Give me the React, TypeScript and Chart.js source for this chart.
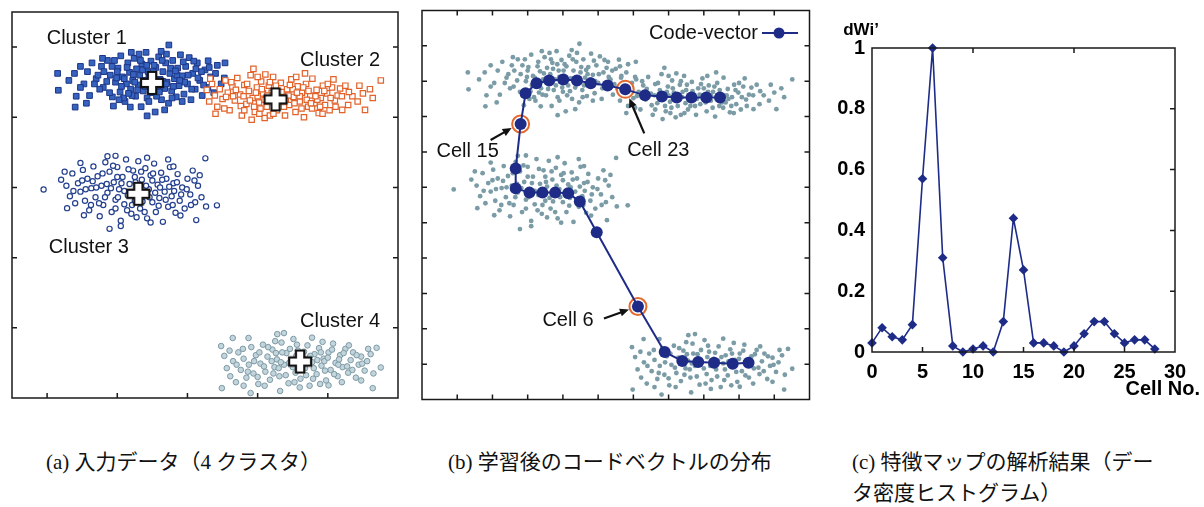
import React, { useEffect, useRef } from "react";
import { Chart, registerables } from "chart.js";

Chart.register(...registerables);
Chart.defaults.font.family = "'Liberation Sans', Arial, sans-serif";

// ---- Input data (shared by panels a and b), [x, y] in plot units 0..11 ----
const cluster1: number[][] = [
  [1.30,9.25],[1.32,8.77],[1.78,9.25],[1.80,8.29],[2.28,9.55],[1.83,8.60],[2.05,8.95],[2.21,8.62],[2.40,9.10],[2.55,9.45],
  [2.60,8.85],[2.72,9.62],[2.80,9.20],[2.86,8.58],[2.95,9.00],[3.02,9.40],[3.08,8.72],[3.10,9.75],[3.15,9.15],[3.22,8.45],
  [3.26,8.95],[3.30,9.55],[3.35,9.28],[3.38,8.80],[3.44,9.05],[3.48,9.68],[3.52,8.60],[3.55,9.38],[3.60,8.92],[3.64,9.20],
  [3.68,8.30],[3.70,9.52],[3.74,8.75],[3.78,9.05],[3.82,9.85],[3.85,8.55],[3.88,9.30],[3.92,8.98],[3.96,9.60],[4.00,8.70],
  [4.04,9.15],[4.08,8.15],[4.10,9.42],[4.15,8.88],[4.18,9.72],[4.22,9.08],[4.26,8.50],[4.30,9.30],[4.35,8.82],[4.38,9.55],
  [4.42,9.00],[4.46,8.40],[4.50,9.25],[4.55,8.75],[4.58,9.62],[4.63,9.10],[4.68,8.58],[4.72,9.40],[4.76,8.90],[4.80,9.78],
  [4.85,9.18],[4.90,8.66],[4.95,9.45],[5.00,8.95],[5.05,9.70],[5.10,8.50],[5.15,9.25],[5.22,8.80],[5.28,9.55],[5.35,9.05],
  [5.42,8.62],[5.50,9.35],[5.58,8.85],[5.66,9.15],[5.75,8.70],[5.85,9.48],[5.96,8.95],[6.05,9.12],[4.47,10.06],[5.59,9.61],
  [6.07,9.55],[3.85,8.04],[4.35,8.21],[2.89,8.32],[3.37,8.29],[3.20,9.10],[3.50,9.00],[3.90,9.12],[4.30,9.02],[4.70,9.20],
  [3.00,9.30],[2.70,9.02],[4.12,8.60],[3.42,8.62],[4.92,9.00],[5.30,9.12],[2.50,8.80],[3.62,9.80],[4.40,9.80],[2.92,9.62],
  [2.45,9.20],[2.15,9.30],[1.95,8.85],[3.18,8.55],[3.72,9.35],[4.05,9.48],[4.85,8.45],[5.40,9.30],
  [2.35,8.95],[2.62,9.30],[2.78,8.70],[2.98,9.12],[3.12,8.88],[3.28,9.42],[3.32,8.68],[3.46,9.22],[3.58,8.78],[3.66,9.62],
  [3.80,8.88],[3.84,9.48],[3.98,8.82],[4.02,9.30],[4.14,9.05],[4.20,8.72],[4.28,9.62],[4.40,8.95],[4.52,9.40],[4.60,8.88],
  [4.66,9.32],[4.78,9.05],[4.88,9.58],[5.02,9.20],[5.12,8.80],[5.24,9.38],[5.46,8.92],[5.62,9.42],[2.58,9.68],[3.05,8.50],
  [3.90,8.45],[4.56,8.55],[5.18,9.60],[2.85,9.45],[3.40,9.85],[4.25,9.88],[1.62,9.05],[1.95,9.45],[2.12,8.40],[5.80,9.25],
];

const cluster2: number[][] = [
  [5.55,8.78],[5.62,8.45],[5.70,8.95],[5.78,8.62],[5.85,8.30],[5.92,8.80],[6.00,8.52],[6.08,9.05],[6.15,8.70],[6.20,8.20],
  [6.28,8.88],[6.35,8.48],[6.42,9.12],[6.50,8.65],[6.55,8.05],[6.62,8.92],[6.68,8.38],[6.75,8.75],[6.80,9.20],[6.86,8.55],
  [6.92,8.15],[6.98,8.85],[7.04,8.42],[7.10,9.02],[7.15,8.68],[7.20,7.98],[7.26,8.30],[7.32,8.90],[7.38,8.55],[7.44,9.15],
  [7.50,8.75],[7.55,8.20],[7.60,8.45],[7.66,8.98],[7.72,8.62],[7.78,8.05],[7.84,8.80],[7.90,8.35],[7.96,9.08],[8.02,8.58],
  [8.08,8.15],[8.14,8.88],[8.20,8.45],[8.26,8.70],[8.32,8.00],[8.38,8.95],[8.44,8.30],[8.50,8.62],[8.56,9.10],[8.62,8.40],
  [8.68,8.78],[8.74,8.12],[8.80,8.55],[8.86,8.90],[8.92,8.35],[8.98,8.68],[9.05,8.20],[9.12,8.85],[9.20,8.48],[9.28,8.62],
  [10.51,9.05],[10.28,8.55],[10.06,8.21],[9.58,8.35],[9.41,8.21],[9.16,9.08],[6.88,9.38],[7.22,9.22],[10.00,8.68],[9.35,8.82],
  [6.83,7.93],[7.00,8.60],[7.40,8.70],[7.80,8.50],[8.20,8.60],[6.60,8.60],[7.62,8.30],[8.00,8.80],[7.20,8.50],[6.90,8.30],
  [8.40,8.50],[6.30,8.60],[8.70,8.50],[9.70,8.60],[9.50,8.90],[5.65,9.10],[6.05,8.25],[7.05,8.10],[8.55,8.25],[9.00,8.95],
  [7.35,8.05],
  [6.10,8.58],[6.38,8.78],[6.52,8.32],[6.70,8.95],[6.78,8.48],[6.95,8.70],[7.08,8.25],[7.12,8.80],[7.28,8.62],[7.35,9.00],
  [7.48,8.38],[7.52,8.90],[7.68,8.72],[7.75,8.30],[7.88,8.62],[7.92,8.92],[8.05,8.40],[8.12,8.70],[8.25,8.25],[8.30,8.85],
  [8.45,8.75],[8.52,8.40],[8.65,8.60],[8.78,8.30],[8.90,8.75],[9.08,8.55],[9.22,8.30],[9.40,8.60],[9.60,8.72],[9.85,8.45],
  [6.25,9.00],[6.62,8.20],[7.45,8.10],[8.10,9.15],[8.85,8.10],[5.80,8.10],[9.90,8.90],[10.20,8.80],[7.00,9.15],[8.35,9.25],
];

const cluster3: number[][] = [
  [1.55,6.05],[1.65,5.75],[1.72,6.40],[1.80,5.55],[1.88,6.12],[1.95,5.88],[2.02,6.50],[2.08,5.62],[2.15,6.25],[2.20,5.35],
  [2.26,5.98],[2.32,6.60],[2.38,5.72],[2.44,6.32],[2.50,5.18],[2.55,6.05],[2.60,5.50],[2.66,6.72],[2.72,5.85],[2.78,6.45],
  [2.84,5.30],[2.90,6.15],[2.95,5.65],[3.00,6.58],[3.05,5.95],[3.10,5.05],[3.15,6.30],[3.20,5.52],[3.25,6.80],[3.30,5.78],
  [3.35,6.10],[3.40,5.25],[3.45,6.48],[3.50,5.62],[3.55,6.02],[3.60,6.75],[3.65,5.40],[3.70,6.22],[3.75,5.80],[3.80,6.55],
  [3.85,5.12],[3.90,5.95],[3.95,6.35],[4.00,5.58],[4.05,6.68],[4.10,5.30],[4.15,6.08],[4.20,5.70],[4.25,6.42],[4.30,5.02],
  [4.35,5.88],[4.40,6.25],[4.45,5.45],[4.50,6.58],[4.55,5.75],[4.60,6.12],[4.66,5.28],[4.72,6.38],[4.78,5.62],[4.85,6.00],
  [4.92,5.40],[5.00,6.25],[5.08,5.80],[5.15,6.48],[5.22,5.58],[5.30,6.05],[5.40,5.72],[0.90,5.94],[1.40,6.22],[5.51,6.83],
  [5.84,5.49],[5.53,5.46],[2.78,4.82],[5.25,5.07],[2.72,6.89],[1.57,5.41],[2.05,5.21],[3.20,5.90],[3.50,6.30],[3.72,5.60],
  [2.70,6.10],[4.22,6.00],[2.40,6.00],[3.00,6.30],[4.00,6.20],[3.42,5.50],[4.62,5.90],[3.10,4.90],[3.95,5.00],[2.95,5.40],
  [4.60,6.60],[1.95,6.70],
  [2.10,5.95],[2.30,6.18],[2.48,5.55],[2.58,6.40],[2.65,5.72],[2.82,5.98],[2.88,6.62],[3.02,5.72],[3.12,6.12],[3.28,5.35],
  [3.32,6.52],[3.38,5.82],[3.52,6.15],[3.62,5.70],[3.68,6.45],[3.78,5.30],[3.82,6.05],[3.92,5.72],[4.02,6.40],[4.08,5.85],
  [4.18,5.48],[4.28,6.22],[4.38,5.65],[4.48,6.02],[4.58,5.50],[4.70,6.15],[4.82,5.80],[4.98,5.95],[5.10,5.50],[5.20,6.20],
  [1.75,5.90],[2.25,5.50],[2.95,6.90],[3.55,5.15],[4.45,6.80],[5.35,6.35],[1.50,6.45],[2.00,6.20],[3.85,6.85],[4.80,5.20],
];

const cluster4: number[][] = [
  [6.05,1.20],[6.12,0.85],[6.22,0.62],[6.30,1.05],[6.38,0.45],[6.45,1.30],[6.52,0.80],[6.60,1.12],[6.68,0.58],[6.75,0.95],
  [6.82,1.45],[6.88,0.70],[6.95,1.22],[7.02,0.40],[7.08,0.98],[7.15,1.52],[7.22,0.75],[7.28,1.18],[7.35,0.52],[7.42,1.38],
  [7.48,0.88],[7.55,1.10],[7.62,0.62],[7.68,1.58],[7.75,0.95],[7.82,1.28],[7.88,0.42],[7.95,1.05],[8.02,1.68],[8.08,0.72],
  [8.15,1.35],[8.22,0.55],[8.28,1.15],[8.35,0.85],[8.42,1.50],[8.48,0.35],[8.55,1.02],[8.62,1.25],[8.68,0.68],[8.75,1.42],
  [8.82,0.92],[8.88,1.12],[8.95,0.50],[9.02,1.30],[9.08,0.80],[9.15,1.55],[9.22,1.00],[9.28,0.62],[9.35,1.22],[9.42,0.88],
  [9.50,1.40],[9.58,0.72],[9.65,1.08],[9.72,1.30],[9.80,0.58],[9.88,0.95],[9.95,1.18],[10.05,0.78],[10.12,1.05],[10.22,1.25],
  [5.96,1.48],[6.29,1.71],[6.74,1.71],[5.98,0.28],[6.80,0.14],[10.51,0.87],[10.39,1.43],[10.28,0.28],[9.02,0.36],[7.64,0.20],
  [7.56,1.82],[7.75,1.85],[7.90,1.00],[8.30,0.95],[8.60,0.85],[7.60,0.85],[8.90,1.05],[7.40,1.05],[8.10,1.20],[9.30,0.95],
  [8.40,1.10],[7.70,1.30],[8.85,1.60],[9.60,1.50],[7.20,0.35],[8.20,0.30],[10.30,0.70],[6.60,0.35],
  [6.40,0.95],[6.58,1.40],[6.72,0.75],[6.90,1.05],[7.05,1.30],[7.18,0.90],[7.30,1.45],[7.45,0.70],[7.52,1.28],[7.66,1.02],
  [7.80,0.65],[7.92,1.40],[8.00,0.88],[8.12,1.52],[8.18,0.95],[8.32,1.32],[8.38,0.65],[8.50,1.20],[8.58,0.55],[8.70,1.08],
  [8.80,1.30],[8.92,0.78],[9.00,1.15],[9.12,1.38],[9.18,0.68],[9.32,1.10],[9.45,1.28],[9.55,0.90],[9.70,0.80],[9.82,1.22],
  [9.98,0.98],[10.15,1.40],[6.20,1.35],[7.00,0.60],[8.05,0.45],[8.78,0.40],[9.40,0.45],[7.50,1.62],[8.55,1.72],[9.95,0.50],
];

// Cluster centres (plus markers) and their labels
const centroids: number[][] = [[3.99, 8.98], [7.51, 8.51], [3.60, 5.82], [8.21, 1.04]];
const clusterNames = ["Cluster 1", "Cluster 2", "Cluster 3", "Cluster 4"];
const clusterLabelAt: number[][] = [[2.13, 10.25], [9.35, 9.61], [2.19, 4.29], [9.35, 2.18]];

// ---- Code vectors after training, cells 0..29 ----
const codeX = [9.27, 8.82, 8.29, 7.84, 7.39, 6.89, 6.13, 4.96, 4.48, 4.15, 3.78, 3.42, 3.05, 2.66, 2.66,
  2.80, 2.94, 3.25, 3.61, 4.01, 4.40, 4.79, 5.27, 5.77, 6.33, 6.81, 7.23, 7.65, 8.07, 8.46];
const codeY = [1.04, 1.01, 1.04, 1.06, 1.09, 1.34, 2.63, 4.73, 5.60, 5.83, 5.85, 5.85, 5.85, 5.97, 6.53,
  7.79, 8.66, 8.94, 9.02, 9.05, 9.02, 8.94, 8.88, 8.77, 8.60, 8.57, 8.54, 8.54, 8.54, 8.54];
const markedCells = [6, 15, 23];

// ---- Feature-map analysis: dWi' per cell ----
const cellNo = [0, 1, 2, 3, 4, 5, 6, 7, 8, 9, 10, 11, 12, 13, 14, 15, 16, 17, 18, 19, 20, 21, 22, 23, 24, 25, 26, 27, 28];
const dWi = [0.03, 0.08, 0.05, 0.04, 0.09, 0.57, 1.0, 0.31, 0.02, 0.0, 0.01, 0.02, 0.0, 0.10, 0.44,
  0.27, 0.03, 0.03, 0.02, 0.0, 0.02, 0.06, 0.10, 0.10, 0.06, 0.03, 0.04, 0.04, 0.01];

const unitTicksA = { bottom: [1, 3, 5, 7, 9], left: [2, 4, 6, 8, 10], right: [2, 4, 6, 8, 10] };
const unitTicksB = {
  top: [1, 2, 3, 4, 5, 6, 7, 8, 9, 10], bottom: [1, 2, 3, 4, 5, 6, 7, 8, 9, 10],
  left: [1, 2, 3, 4, 5, 6, 7, 8, 9, 10], right: [1, 2, 3, 4, 5, 6, 7, 8, 9, 10],
};
const ticksC = { bottom: [5, 10, 15, 20, 25], top: [10, 20], right: [0.2, 0.4, 0.6, 0.8] };

const NAVY = "#1e2c88";
const FONT = "'Liberation Sans', Arial, sans-serif";

const toPts = (arr: number[][]) => arr.map(([x, y]) => ({ x, y }));

type TickSpec = { top?: number[]; bottom?: number[]; left?: number[]; right?: number[] };

function framePlugin(spec: TickSpec, len: number, width: number) {
  return {
    id: "frameTicks",
    afterDatasetsDraw(chart: any) {
      const { ctx, chartArea: a, scales } = chart;
      const sx = scales.x, sy = scales.y;
      ctx.save();
      ctx.strokeStyle = "#1a1a1a";
      ctx.lineWidth = width;
      ctx.strokeRect(a.left, a.top, a.right - a.left, a.bottom - a.top);
      ctx.beginPath();
      (spec.bottom || []).forEach((v) => { const p = sx.getPixelForValue(v); ctx.moveTo(p, a.bottom); ctx.lineTo(p, a.bottom - len); });
      (spec.top || []).forEach((v) => { const p = sx.getPixelForValue(v); ctx.moveTo(p, a.top); ctx.lineTo(p, a.top + len); });
      (spec.left || []).forEach((v) => { const p = sy.getPixelForValue(v); ctx.moveTo(a.left, p); ctx.lineTo(a.left + len, p); });
      (spec.right || []).forEach((v) => { const p = sy.getPixelForValue(v); ctx.moveTo(a.right, p); ctx.lineTo(a.right - len, p); });
      ctx.stroke();
      ctx.restore();
    },
  };
}

function makePlus(): HTMLCanvasElement {
  const c = document.createElement("canvas");
  c.width = 26;
  c.height = 26;
  const g = c.getContext("2d")!;
  const a = 4.2, L = 11, cx = 13, cy = 13;
  g.beginPath();
  g.moveTo(cx - a, cy - L); g.lineTo(cx + a, cy - L); g.lineTo(cx + a, cy - a);
  g.lineTo(cx + L, cy - a); g.lineTo(cx + L, cy + a); g.lineTo(cx + a, cy + a);
  g.lineTo(cx + a, cy + L); g.lineTo(cx - a, cy + L); g.lineTo(cx - a, cy + a);
  g.lineTo(cx - L, cy + a); g.lineTo(cx - L, cy - a); g.lineTo(cx - a, cy - a);
  g.closePath();
  g.fillStyle = "#ffffff";
  g.fill();
  g.lineWidth = 2.2;
  g.lineJoin = "miter";
  g.strokeStyle = "#111111";
  g.stroke();
  return c;
}

function drawArrow(ctx: CanvasRenderingContext2D, x1: number, y1: number, x2: number, y2: number) {
  const ang = Math.atan2(y2 - y1, x2 - x1);
  const head = 9, hw = 4;
  const c = Math.cos(ang), s = Math.sin(ang);
  ctx.beginPath();
  ctx.moveTo(x1, y1);
  ctx.lineTo(x2 - c * head * 0.8, y2 - s * head * 0.8);
  ctx.lineWidth = 2.2;
  ctx.stroke();
  ctx.beginPath();
  ctx.moveTo(x2, y2);
  ctx.lineTo(x2 - head * c + hw * s, y2 - head * s - hw * c);
  ctx.lineTo(x2 - head * c - hw * s, y2 - head * s + hw * c);
  ctx.closePath();
  ctx.fill();
}

const hiddenScales = {
  x: { type: "linear" as const, min: 0, max: 11, display: false },
  y: { type: "linear" as const, min: 0, max: 11, display: false },
};

const baseOptions = {
  responsive: false,
  animation: false as const,
  devicePixelRatio: 1,
  events: [] as any[],
  plugins: { legend: { display: false }, tooltip: { enabled: false } },
};

function buildInput(): any {
  const clusterLabels = {
    id: "clusterLabels",
    afterDatasetsDraw(chart: any) {
      const { ctx, scales } = chart;
      ctx.save();
      ctx.font = `20px ${FONT}`;
      ctx.fillStyle = "#111";
      ctx.textAlign = "center";
      ctx.textBaseline = "middle";
      clusterNames.forEach((name, i) => {
        ctx.fillText(name, scales.x.getPixelForValue(clusterLabelAt[i][0]), scales.y.getPixelForValue(clusterLabelAt[i][1]));
      });
      ctx.restore();
    },
  };
  return {
    type: "scatter",
    data: {
      datasets: [
        { data: toPts(centroids), pointStyle: makePlus(), pointRadius: 11 },
        { data: toPts(cluster2), pointStyle: "rect", pointRadius: 3.8, backgroundColor: "#ffffff", borderColor: "#e2622a", borderWidth: 1.2 },
        { data: toPts(cluster1), pointStyle: "rect", pointRadius: 4, backgroundColor: "#3563bf", borderColor: "#1d3586", borderWidth: 1 },
        { data: toPts(cluster3), pointStyle: "circle", pointRadius: 2.6, backgroundColor: "#ffffff", borderColor: "#24408f", borderWidth: 1.2 },
        { data: toPts(cluster4), pointStyle: "circle", pointRadius: 2.8, backgroundColor: "#c3d5dc", borderColor: "#7d99a4", borderWidth: 1 },
      ],
    },
    options: {
      ...baseOptions,
      layout: { padding: { left: 7, top: 10, right: 12, bottom: 7 } },
      scales: hiddenScales,
    },
    plugins: [framePlugin(unitTicksA, 5, 1.5), clusterLabels],
  };
}

function buildCodeVectors(): any {
  const cloud = toPts([...cluster1, ...cluster2, ...cluster3, ...cluster4]);
  const codePts = codeX.map((x, i) => ({ x, y: codeY[i] }));
  const rings = markedCells.map((i) => ({ x: codeX[i], y: codeY[i] }));
  // label offsets (px) relative to each marked cell: [textDx, textDy, tailDx, tailDy, tipDx, tipDy]
  const callouts: { cell: number; text: string; off: number[] }[] = [
    { cell: 15, text: "Cell 15", off: [-53, 27, -30, 16, -9, 4] },
    { cell: 23, text: "Cell 23", off: [33, 61, 19, 44, 4, 9] },
    { cell: 6, text: "Cell 6", off: [-70, 14, -34, 12, -9, 3] },
  ];
  const annotations = {
    id: "codeAnnotations",
    afterDatasetsDraw(chart: any) {
      const { ctx, scales } = chart;
      ctx.save();
      ctx.fillStyle = "#111";
      ctx.strokeStyle = "#111";
      ctx.font = `20px ${FONT}`;
      ctx.textAlign = "center";
      ctx.textBaseline = "middle";
      callouts.forEach(({ cell, text, off }) => {
        const px = scales.x.getPixelForValue(codeX[cell]);
        const py = scales.y.getPixelForValue(codeY[cell]);
        ctx.fillText(text, px + off[0], py + off[1]);
        drawArrow(ctx, px + off[2], py + off[3], px + off[4], py + off[5]);
      });
      // legend: text, then line sample with marker
      ctx.textAlign = "right";
      ctx.fillText("Code-vector", 348, 33);
      ctx.strokeStyle = NAVY;
      ctx.lineWidth = 2;
      ctx.beginPath();
      ctx.moveTo(352, 33);
      ctx.lineTo(388, 33);
      ctx.stroke();
      ctx.fillStyle = NAVY;
      ctx.beginPath();
      ctx.arc(369, 33, 5.5, 0, Math.PI * 2);
      ctx.fill();
      ctx.restore();
    },
  };
  return {
    type: "scatter",
    data: {
      datasets: [
        {
          data: codePts, showLine: true, borderColor: NAVY, borderWidth: 2,
          pointRadius: 6, pointBackgroundColor: NAVY, pointBorderColor: NAVY, pointBorderWidth: 0,
        },
        { data: rings, pointRadius: 8.5, backgroundColor: "rgba(255,255,255,0.9)", borderColor: "#e4692e", borderWidth: 2 },
        { data: cloud, pointRadius: 2.4, backgroundColor: "#7b9ca6", borderWidth: 0 },
      ],
    },
    options: {
      ...baseOptions,
      layout: { padding: { left: 12, top: 10, right: 5, bottom: 8 } },
      scales: hiddenScales,
    },
    plugins: [framePlugin(unitTicksB, 5, 1.5), annotations],
  };
}

function buildHistogram(): any {
  const tickFont = { family: FONT, size: 20, weight: "bold" as const };
  const titles = {
    id: "axisTitles",
    afterDatasetsDraw(chart: any) {
      const { ctx } = chart;
      ctx.save();
      ctx.fillStyle = "#000";
      ctx.textBaseline = "middle";
      ctx.font = `bold 17px ${FONT}`;
      ctx.textAlign = "center";
      ctx.fillText("dWi\u2019", 41, 30);
      ctx.font = `bold 20px ${FONT}`;
      ctx.textAlign = "right";
      ctx.fillText("Cell No.", 380, 389);
      ctx.restore();
    },
  };
  return {
    type: "scatter",
    data: {
      datasets: [
        {
          data: cellNo.map((c, i) => ({ x: c, y: dWi[i] })),
          showLine: true, borderColor: NAVY, borderWidth: 1.6, clip: false,
          pointStyle: "rectRot", pointRadius: 4.8, pointBackgroundColor: NAVY, pointBorderColor: NAVY, pointBorderWidth: 0,
        },
      ],
    },
    options: {
      ...baseOptions,
      layout: { padding: { left: 0, top: 48, right: 29, bottom: 0 } },
      scales: {
        x: {
          type: "linear", min: 0, max: 30,
          ticks: { stepSize: 5, font: tickFont, color: "#000", padding: 8, maxRotation: 0 },
          grid: { display: false, drawTicks: false },
          border: { display: false },
          afterFit: (s: any) => { s.height = 58; },
        },
        y: {
          type: "linear", min: 0, max: 1,
          ticks: {
            stepSize: 0.2, font: tickFont, color: "#000", padding: 7,
            callback: (v: any) => {
              const n = Number(v);
              return n === 0 || n === 1 ? String(n) : n.toFixed(1);
            },
          },
          grid: { display: false, drawTicks: false },
          border: { display: false },
          afterFit: (s: any) => { s.width = 52; },
        },
      },
    },
    plugins: [framePlugin(ticksC, 5, 1.5), titles],
  };
}

function Panel({ left, width, height, build }: { left: number; width: number; height: number; build: () => any }) {
  const ref = useRef<HTMLCanvasElement>(null);
  useEffect(() => {
    const chart = new Chart(ref.current as HTMLCanvasElement, build());
    return () => chart.destroy();
  }, []);
  return (
    <canvas
      ref={ref}
      width={width}
      height={height}
      style={{ position: "absolute", left, top: 0, width, height }}
    />
  );
}

const captionStyle: React.CSSProperties = {
  position: "absolute",
  fontFamily: "'Liberation Serif', 'Noto Sans CJK JP', serif",
  fontSize: 21,
  lineHeight: "26px",
  color: "#111",
  whiteSpace: "nowrap",
};

export default function App() {
  return (
    <div style={{ position: "fixed", left: 0, top: 0, width: 1204, height: 507, background: "#fff", overflow: "hidden" }}>
      <Panel left={0} width={410} height={410} build={buildInput} />
      <Panel left={410} width={410} height={410} build={buildCodeVectors} />
      <Panel left={820} width={384} height={410} build={buildHistogram} />
      <div style={{ ...captionStyle, left: 46, top: 449 }}>(a) 入力データ（4 クラスタ）</div>
      <div style={{ ...captionStyle, left: 448, top: 449 }}>(b) 学習後のコードベクトルの分布</div>
      <div style={{ ...captionStyle, left: 852, top: 449 }}>(c) 特徴マップの解析結果（デー</div>
      <div style={{ ...captionStyle, left: 852, top: 480 }}>タ密度ヒストグラム）</div>
    </div>
  );
}
